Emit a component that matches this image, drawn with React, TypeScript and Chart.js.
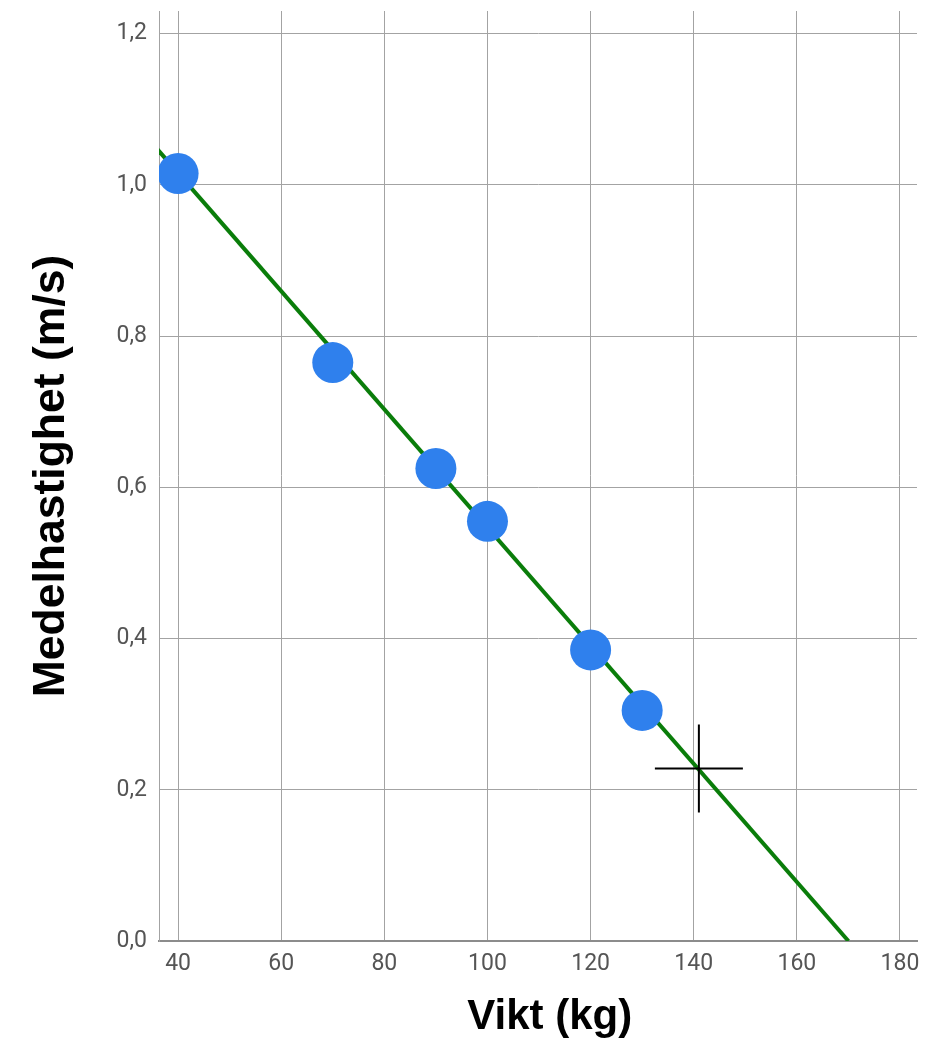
import { useEffect, useRef } from 'react'
import { Chart, registerables } from 'chart.js'

Chart.register(...registerables)

// measured points: weight (kg) vs average speed (m/s)
const weights = [40, 70, 90, 100, 120, 130]
const speeds = [1.015, 0.765, 0.625, 0.555, 0.385, 0.305]

// fitted line, end points
const lineX = [36, 170]
const lineY = [1.047, 0]

// the cross marker
const crossX = [141]
const crossY = [0.228]

const xTitle = 'Vikt (kg)'
const yTitle = 'Medelhastighet (m/s)'

const noEdgePadding = (s: any) => {
  s.paddingTop = 0
  s.paddingBottom = 0
  s.paddingLeft = 0
  s.paddingRight = 0
}

const App: React.FC = () => {
  const canvasRef = useRef<HTMLCanvasElement>(null)
  const chartRef = useRef<Chart | null>(null)

  useEffect(() => {
    if (!canvasRef.current) return
    if (chartRef.current) chartRef.current.destroy()

    const tickFont = { family: 'Roboto', size: 23 }

    chartRef.current = new Chart(canvasRef.current, {
      type: 'scatter',
      data: {
        datasets: [
          {
            label: 'cross',
            data: crossX.map((x, i) => ({ x, y: crossY[i] })),
            pointStyle: 'cross',
            pointRadius: 44,
            borderColor: '#000',
            backgroundColor: '#000',
            pointBorderWidth: 2,
          },
          {
            label: 'points',
            data: weights.map((x, i) => ({ x, y: speeds[i] })),
            pointRadius: 20.5,
            backgroundColor: '#2f80ed',
            borderColor: '#2f80ed',
            borderWidth: 0,
          },
          {
            label: 'fit',
            data: lineX.map((x, i) => ({ x, y: lineY[i] })),
            showLine: true,
            pointRadius: 0,
            borderColor: '#0a7d0a',
            borderWidth: 4,
          },
        ],
      },
      options: {
        animation: false,
        responsive: true,
        maintainAspectRatio: false,
        layout: { autoPadding: false, padding: { top: 11, right: 26, left: 0, bottom: 0 } },
        plugins: {
          legend: { display: false },
          tooltip: { enabled: false },
        },
        scales: {
          x: {
            type: 'linear',
            min: 36.3,
            max: 183.3,
            afterFit: (s: any) => {
              s.height = 109
              noEdgePadding(s)
            },
            ticks: {
              stepSize: 20,
              includeBounds: false,
              color: '#555',
              font: tickFont,
              padding: 9,
              callback: (v: any) => String(v),
            },
            grid: { color: '#a3a3a3', lineWidth: 1, drawTicks: false },
            border: { color: '#8c8c8c', width: 2 },
            title: {
              display: true,
              text: '  ' + xTitle,
              color: '#000',
              font: { family: 'Liberation Sans', size: 42, weight: 'bold' },
              padding: { top: 0, bottom: 7 },
            },
          },
          y: {
            type: 'linear',
            min: 0,
            max: 1.23,
            afterFit: (s: any) => {
              s.width = 159
              noEdgePadding(s)
            },
            ticks: {
              stepSize: 0.2,
              includeBounds: false,
              color: '#555',
              font: tickFont,
              padding: 12,
              callback: (v: any) => Number(v).toFixed(1).replace('.', ','),
            },
            grid: { color: '#a3a3a3', lineWidth: 1, drawTicks: false },
            border: { color: '#a3a3a3', width: 1 },
            title: {
              display: true,
              text: yTitle,
              color: '#000',
              font: { family: 'Liberation Sans', size: 44.5, weight: 'bold' },
              lineHeight: 1.2,
              padding: { top: 25, bottom: 0 },
            },
          },
        },
      },
    })

    return () => {
      chartRef.current?.destroy()
    }
  }, [])

  return (
    <div style={{ position: 'absolute', left: 0, top: 0, width: 943, height: 1050, background: '#fff' }}>
      <canvas ref={canvasRef} />
    </div>
  )
}

export default App
